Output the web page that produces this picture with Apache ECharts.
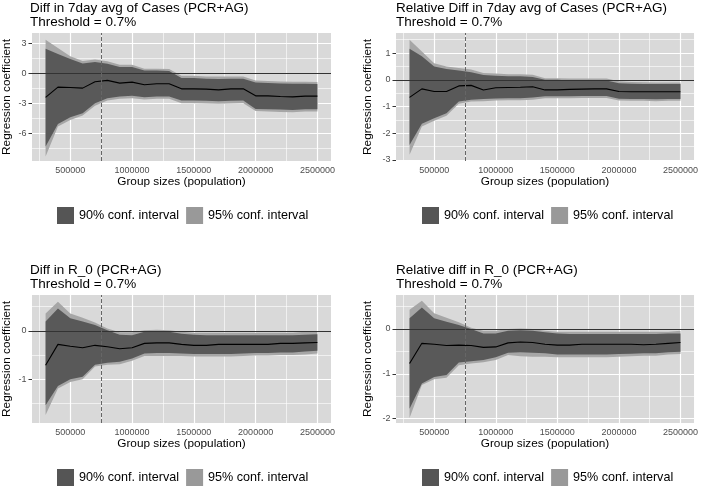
<!DOCTYPE html>
<html><head><meta charset="utf-8">
<script src="https://cdn.jsdelivr.net/npm/echarts@6/dist/echarts.min.js"></script>
<style>html,body{margin:0;padding:0;background:#fff}#c{width:701px;height:487px}</style>
</head><body><div id="c"></div><script>
// ---- data ----
const groupSizes = [300000,400000,500000,600000,700000,800000,900000,1000000,1100000,1200000,1300000,1400000,1500000,1600000,1700000,1800000,1900000,2000000,2100000,2200000,2300000,2400000,2500000];
const xTicks = [500000,1000000,1500000,2000000,2500000];
const xMinorLines = [250000,750000,1250000,1750000,2250000];
const threshold = 750000;

const titles = [
  'Diff in 7day avg of Cases (PCR+AG)\nThreshold = 0.7%',
  'Relative Diff in 7day avg of Cases (PCR+AG)\nThreshold = 0.7%',
  'Diff in R_0 (PCR+AG)\nThreshold = 0.7%',
  'Relative diff in R_0 (PCR+AG)\nThreshold = 0.7%'
];
const legendNames = ['90% conf. interval','95% conf. interval'];

// Panel 1: Diff in 7day avg of Cases
const est1  = [-2.43,-1.40,-1.43,-1.50,-0.87,-0.73,-1.00,-0.90,-1.17,-1.07,-1.07,-1.57,-1.57,-1.60,-1.67,-1.57,-1.57,-2.27,-2.27,-2.33,-2.37,-2.30,-2.30];
const hi90_1 = [2.43,1.90,1.40,0.95,1.10,0.93,0.60,0.60,0.27,0.27,0.20,-0.50,-0.50,-0.57,-0.60,-0.57,-0.57,-0.93,-1.00,-1.03,-1.07,-1.07,-1.10];
const hi95_1 = [3.33,2.50,1.67,1.20,1.35,1.17,0.83,0.83,0.43,0.43,0.40,-0.27,-0.27,-0.33,-0.35,-0.33,-0.33,-0.73,-0.80,-0.83,-0.87,-0.87,-0.90];
const lo90_1 = [-7.33,-5.07,-4.40,-4.00,-3.00,-2.50,-2.33,-2.27,-2.40,-2.33,-2.33,-2.73,-2.73,-2.77,-2.80,-2.77,-2.73,-3.57,-3.60,-3.63,-3.67,-3.60,-3.60];
const lo95_1 = [-8.33,-5.33,-4.67,-4.23,-3.27,-2.73,-2.57,-2.50,-2.63,-2.57,-2.57,-3.00,-3.00,-3.03,-3.07,-3.03,-3.00,-3.77,-3.83,-3.87,-3.90,-3.83,-3.83];
const yTicks1 = [-6,-3,0,3];
const yMinor1 = [-7.5,-4.5,-1.5,1.5];

// Panel 2: Relative Diff in 7day avg of Cases
const est2  = [-0.66,-0.34,-0.44,-0.44,-0.23,-0.21,-0.38,-0.30,-0.29,-0.28,-0.26,-0.38,-0.38,-0.36,-0.35,-0.34,-0.34,-0.44,-0.45,-0.45,-0.45,-0.45,-0.45];
const hi90_2 = [1.16,0.88,0.50,0.40,0.35,0.28,0.18,0.15,0.13,0.13,0.10,0.00,0.00,-0.03,-0.03,-0.03,-0.03,-0.13,-0.15,-0.16,-0.16,-0.16,-0.16];
const hi95_2 = [1.50,1.06,0.62,0.50,0.44,0.38,0.25,0.23,0.21,0.21,0.19,0.06,0.06,0.05,0.05,0.05,0.05,-0.06,-0.08,-0.09,-0.10,-0.10,-0.10];
const lo90_2 = [-2.44,-1.65,-1.44,-1.25,-0.81,-0.75,-0.72,-0.70,-0.69,-0.69,-0.66,-0.62,-0.62,-0.62,-0.61,-0.61,-0.61,-0.71,-0.72,-0.72,-0.73,-0.72,-0.72];
const lo95_2 = [-2.81,-1.75,-1.53,-1.35,-0.90,-0.81,-0.80,-0.78,-0.77,-0.77,-0.75,-0.69,-0.69,-0.69,-0.68,-0.68,-0.68,-0.78,-0.79,-0.79,-0.80,-0.79,-0.79];
const yTicks2 = [-3,-2,-1,0,1];
const yMinor2 = [-2.5,-1.5,-0.5,0.5,1.5];

// Panel 3: Diff in R_0
const est3  = [-0.71,-0.28,-0.32,-0.35,-0.30,-0.33,-0.37,-0.35,-0.26,-0.25,-0.25,-0.28,-0.30,-0.30,-0.28,-0.28,-0.28,-0.28,-0.28,-0.26,-0.26,-0.25,-0.24];
const hi90_3 = [0.19,0.46,0.26,0.19,0.12,0.01,-0.08,-0.09,-0.02,-0.01,-0.02,-0.06,-0.08,-0.09,-0.09,-0.09,-0.09,-0.09,-0.09,-0.09,-0.09,-0.08,-0.07];
const hi95_3 = [0.36,0.60,0.36,0.27,0.17,0.05,-0.03,-0.03,0.01,0.02,0.01,-0.02,-0.04,-0.04,-0.04,-0.04,-0.04,-0.04,-0.04,-0.04,-0.04,-0.02,-0.02];
const lo90_3 = [-1.54,-1.14,-1.00,-0.95,-0.70,-0.66,-0.64,-0.57,-0.47,-0.46,-0.46,-0.47,-0.48,-0.48,-0.48,-0.48,-0.47,-0.46,-0.46,-0.45,-0.45,-0.43,-0.41];
const lo95_3 = [-1.74,-1.19,-1.06,-1.00,-0.74,-0.70,-0.69,-0.62,-0.52,-0.52,-0.52,-0.52,-0.53,-0.53,-0.53,-0.53,-0.52,-0.51,-0.51,-0.50,-0.50,-0.49,-0.47];
const yTicks3 = [-1,0];
const yMinor3 = [-1.5,-0.5,0.5];

// Panel 4: Relative diff in R_0
const est4  = [-0.77,-0.32,-0.34,-0.37,-0.36,-0.37,-0.41,-0.40,-0.31,-0.29,-0.30,-0.34,-0.36,-0.36,-0.34,-0.34,-0.34,-0.34,-0.34,-0.35,-0.34,-0.32,-0.30];
const hi90_4 = [0.24,0.48,0.24,0.16,0.09,0.00,-0.10,-0.10,-0.04,-0.03,-0.04,-0.07,-0.10,-0.11,-0.11,-0.11,-0.11,-0.11,-0.11,-0.11,-0.11,-0.10,-0.10];
const hi95_4 = [0.43,0.63,0.35,0.25,0.15,0.03,-0.04,-0.04,0.00,0.01,0.00,-0.04,-0.06,-0.06,-0.06,-0.06,-0.06,-0.06,-0.06,-0.06,-0.06,-0.06,-0.04];
const lo90_4 = [-1.78,-1.22,-1.07,-1.03,-0.75,-0.72,-0.69,-0.63,-0.53,-0.52,-0.53,-0.54,-0.57,-0.57,-0.57,-0.57,-0.57,-0.56,-0.55,-0.54,-0.54,-0.52,-0.51];
const lo95_4 = [-1.99,-1.25,-1.12,-1.09,-0.81,-0.77,-0.74,-0.69,-0.58,-0.61,-0.62,-0.62,-0.63,-0.63,-0.63,-0.63,-0.63,-0.62,-0.61,-0.60,-0.60,-0.57,-0.56];
const yTicks4 = [-2,-1,0];
const yMinor4 = [-1.5,-0.5,0.5];

// ---- layout / style ----
const FONT = '"Liberation Sans", Arial, Helvetica, sans-serif';
const C_BG = '#d9d9d9', C_90 = '#595959', C_95 = '#a6a6a6';
const panels = [
  {est:est1, hi90:hi90_1, hi95:hi95_1, lo90:lo90_1, lo95:lo95_1, yTicks:yTicks1, yMinor:yMinor1, ymin:-8.77, ymax:4.0,
   grid:{left:30, top:33, width:301, height:128}, titlePos:[30, 1.5], legendPos:{left:57, top:207}, nameGap:19},
  {est:est2, hi90:hi90_2, hi95:hi95_2, lo90:lo90_2, lo95:lo95_2, yTicks:yTicks2, yMinor:yMinor2, ymin:-3.04, ymax:1.75,
   grid:{left:396, top:33, width:300, height:128}, titlePos:[396, 1.5], legendPos:{left:422, top:207}, nameGap:22},
  {est:est3, hi90:hi90_3, hi95:hi95_3, lo90:lo90_3, lo95:lo95_3, yTicks:yTicks3, yMinor:yMinor3, ymin:-1.905, ymax:0.74,
   grid:{left:30, top:295, width:301, height:128}, titlePos:[30, 263.5], legendPos:{left:57, top:469}, nameGap:19},
  {est:est4, hi90:hi90_4, hi95:hi95_4, lo90:lo90_4, lo95:lo95_4, yTicks:yTicks4, yMinor:yMinor4, ymin:-2.10, ymax:0.76,
   grid:{left:396, top:295, width:300, height:128}, titlePos:[396, 263.5], legendPos:{left:422, top:469}, nameGap:22}
];

function ribbon(name, color, lo, hi, gi) {
  return {
    type: 'custom', name: name, xAxisIndex: gi, yAxisIndex: gi, z: 2, silent: true,
    itemStyle: {color: color},
    data: [[groupSizes[0], lo[0]]],
    encode: {x: 0, y: 1},
    renderItem: function (params, api) {
      const pts = [];
      for (let i = 0; i < groupSizes.length; i++) pts.push(api.coord([groupSizes[i], hi[i]]));
      for (let i = groupSizes.length - 1; i >= 0; i--) pts.push(api.coord([groupSizes[i], lo[i]]));
      return {type: 'polygon', shape: {points: pts}, style: {fill: color}};
    }
  };
}

const option = {animation: false, graphic: {elements: []}, grid: [], xAxis: [], yAxis: [], legend: [], series: []};
panels.forEach(function (p, gi) {
  option.graphic.elements.push({type: 'text', x: p.titlePos[0], y: p.titlePos[1], silent: true,
    style: {text: titles[gi], fontFamily: FONT, fontSize: 13.5, lineHeight: 14, fill: '#000', align: 'left', verticalAlign: 'top'}});
  option.grid.push(Object.assign({show: true, backgroundColor: C_BG, borderWidth: 0, containLabel: false}, p.grid));
  option.xAxis.push({type: 'value', gridIndex: gi, min: 190000, max: 2610000,
    name: 'Group sizes (population)', nameLocation: 'middle', nameGap: 15,
    nameTextStyle: {fontFamily: FONT, fontSize: 11.8, color: '#000', verticalAlign: 'top'},
    axisLine: {show: false}, splitLine: {show: false},
    axisTick: {show: true, length: 3.5, lineStyle: {color: '#333', width: 1}, customValues: xTicks},
    axisLabel: {fontFamily: FONT, fontSize: 9, color: '#4d4d4d', margin: 5, customValues: xTicks, formatter: function (v) { return String(v); }}});
  option.yAxis.push({type: 'value', gridIndex: gi, min: p.ymin, max: p.ymax,
    name: 'Regression coefficient', nameLocation: 'middle', nameGap: p.nameGap,
    nameTextStyle: {fontFamily: FONT, fontSize: 11.8, color: '#000'},
    axisLine: {show: false}, splitLine: {show: false},
    axisTick: {show: true, length: 3.5, lineStyle: {color: '#333', width: 1}, customValues: p.yTicks},
    axisLabel: {fontFamily: FONT, fontSize: 9, color: '#4d4d4d', margin: 5.5, customValues: p.yTicks,
      formatter: function (v) { return String(v); }}});
  option.legend.push({left: p.legendPos.left, top: p.legendPos.top, padding: 0, orient: 'horizontal',
    itemWidth: 17, itemHeight: 17, itemGap: 7, icon: 'rect', selectedMode: false,
    textStyle: {fontFamily: FONT, fontSize: 12.6, color: '#000'},
    data: [{name: legendNames[0], itemStyle: {color: '#555555'}}, {name: legendNames[1], itemStyle: {color: '#999999'}}]});

  const gridLines = [];
  p.yMinor.forEach(v => gridLines.push({yAxis: v, lineStyle: {color: '#fff', width: 0.6, type: 'solid'}}));
  xMinorLines.forEach(v => gridLines.push({xAxis: v, lineStyle: {color: '#fff', width: 0.6, type: 'solid'}}));
  p.yTicks.forEach(v => gridLines.push({yAxis: v, lineStyle: {color: '#fff', width: 1.2, type: 'solid'}}));
  xTicks.forEach(v => gridLines.push({xAxis: v, lineStyle: {color: '#fff', width: 1.2, type: 'solid'}}));
  const pts = groupSizes.map((x, i) => [x, p.est[i]]);
  option.series.push({type: 'line', xAxisIndex: gi, yAxisIndex: gi, data: pts, showSymbol: false, silent: true,
    lineStyle: {opacity: 0}, z: 1,
    markLine: {silent: true, symbol: ['none', 'none'], label: {show: false}, z: 1, animation: false, data: gridLines}});
  option.series.push(ribbon(legendNames[1], C_95, p.lo95, p.hi95, gi));
  option.series.push(ribbon(legendNames[0], C_90, p.lo90, p.hi90, gi));
  option.series.push({type: 'line', name: 'estimate', xAxisIndex: gi, yAxisIndex: gi, data: pts, showSymbol: false, silent: true,
    lineStyle: {color: '#000', width: 1.1}, z: 3,
    markLine: {silent: true, symbol: ['none', 'none'], label: {show: false}, z: 4, animation: false,
      data: [{yAxis: 0, lineStyle: {color: '#333', width: 1, type: 'solid'}},
             {xAxis: threshold, lineStyle: {color: '#666', width: 1, type: [4, 2]}}]}});
});

const chart = echarts.init(document.getElementById('c'), null, {renderer: 'canvas'});
chart.setOption(option);
</script></body></html>
